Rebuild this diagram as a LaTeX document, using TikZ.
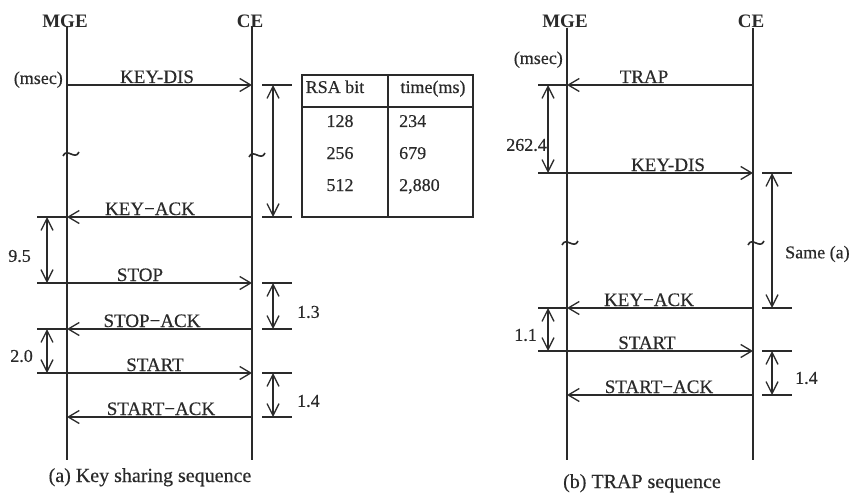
\documentclass[tikz,border=0pt]{standalone}
\usepackage{fontspec}
\setmainfont{Liberation Serif}
\newfontfamily\scanfont{Liberation Serif}[FakeBold=0.4]
\usetikzlibrary{arrows.meta}
\definecolor{ink}{HTML}{2A2A2A}
\begin{document}
\begin{tikzpicture}[x=1pt,y=-1pt,
  life/.style={line width=1.3pt, draw=ink},
  tickline/.style={line width=1.3pt, draw=ink},
  msg/.style={line width=1.3pt, draw=ink, -{Straight Barb[length=11pt,width=13pt]}},
  dimarrow/.style={line width=1.3pt, draw=ink, {Straight Barb[length=12pt,width=12pt]}-{Straight Barb[length=12pt,width=12pt]}},
  tildeline/.style={line width=1.6pt, draw=ink},
  headtext/.style={font=\bfseries\fontsize{19}{19}\selectfont, text=ink, inner sep=0pt, anchor=base},
  lbl/.style={font=\scanfont\fontsize{19}{19}\selectfont, text=ink, inner sep=0pt, anchor=base},
  num/.style={font=\scanfont\fontsize{18}{18}\selectfont, text=ink, inner sep=0pt},
  captext/.style={font=\scanfont\fontsize{20}{20}\selectfont, text=ink, inner sep=0pt, anchor=base},
  tab/.style={line width=1.3pt, draw=ink}
]
\useasboundingbox[fill=white] (0,0) rectangle (855,495);

% ================= (a) Key sharing sequence =================
\node[headtext] (mgeA) at (65,28) {MGE};
\node[headtext] (ceA) at (250,28) {CE};
\coordinate (mgeAtop) at (67,26);
\coordinate (mgeAbot) at (67,460);
\coordinate (ceAtop) at (252,26);
\coordinate (ceAbot) at (252,460);
\draw[life] (mgeAtop) -- (mgeAbot);
\draw[life] (ceAtop) -- (ceAbot);
\node[num, anchor=base east] (msecA) at (63,84) {(msec)};

% tildes
\draw[tildeline] (63,156) .. controls (67,147) and (75,161) .. (79,152);
\draw[tildeline] (249,157) .. controls (253,148) and (261,162) .. (265,153);

% message coordinates
\coordinate (aKDm) at (67,85);  \coordinate (aKDc) at (252,85);
\coordinate (aKAm) at (67,217); \coordinate (aKAc) at (252,217);
\coordinate (aSTl) at (37,283); \coordinate (aSTc) at (252,283);
\coordinate (aSAm) at (67,329); \coordinate (aSAc) at (252,329);
\coordinate (aRSl) at (37,373); \coordinate (aRSc) at (252,373);
\coordinate (aRAm) at (67,417); \coordinate (aRAc) at (252,417);
\coordinate (aKAl) at (37,217);
\coordinate (aSAl) at (37,329);

\draw[msg] (aKDm) -- (aKDc);
\draw[msg] (aKAc) -- (aKAm);
\draw[tickline] (aKAm) -- (aKAl);
\draw[msg] (aSTl) -- (aSTc);
\draw[msg] (aSAc) -- (aSAm);
\draw[tickline] (aSAm) -- (aSAl);
\draw[msg] (aRSl) -- (aRSc);
\draw[msg] (aRAc) -- (aRAm);

\node[lbl] (lKDa) at (157,83) {KEY-DIS};
\node[lbl] (lKAa) at (150,215) {KEY−ACK};
\node[lbl] (lSTa) at (140,281) {STOP};
\node[lbl] (lSAa) at (152,327) {STOP−ACK};
\node[lbl] (lRSa) at (155,371) {START};
\node[lbl] (lRAa) at (161,415) {START−ACK};

% right ticks (a)
\foreach \yy/\nm in {85/r1,217/r2,283/r3,329/r4,373/r5,417/r6}{
  \coordinate (a\nm l) at (262,\yy);
  \coordinate (a\nm r) at (292,\yy);
  \draw[tickline] (a\nm l) -- (a\nm r);
}
\coordinate (aD1t) at (273,85);  \coordinate (aD1b) at (273,217);
\coordinate (aD2t) at (273,283); \coordinate (aD2b) at (273,329);
\coordinate (aD3t) at (273,373); \coordinate (aD3b) at (273,417);
\draw[dimarrow] (aD1t) -- (aD1b);
\draw[dimarrow] (aD2t) -- (aD2b);
\draw[dimarrow] (aD3t) -- (aD3b);
\node[num, anchor=west] (d13) at (297,312) {1.3};
\node[num, anchor=west] (d14a) at (297,401) {1.4};

% left dims (a)
\coordinate (aL1t) at (47,217); \coordinate (aL1b) at (47,283);
\coordinate (aL2t) at (47,329); \coordinate (aL2b) at (47,373);
\draw[dimarrow] (aL1t) -- (aL1b);
\draw[dimarrow] (aL2t) -- (aL2b);
\node[num, anchor=east] (d95) at (31,256) {9.5};
\node[num, anchor=east] (d20) at (33,356) {2.0};

% table
\draw[tab] (302,75) rectangle (473,217);
\draw[tab] (302,107) -- (473,107);
\draw[tab] (388,75) -- (388,217);
\node[num, anchor=base] (th1) at (335,93) {RSA bit};
\node[num, anchor=base] (th2) at (433,93) {time(ms)};
\node[num, anchor=base] (t11) at (340,127) {128};
\node[num, anchor=base] (t21) at (340,159) {256};
\node[num, anchor=base] (t31) at (340,191) {512};
\node[num, anchor=base west] (t12) at (399,127) {234};
\node[num, anchor=base west] (t22) at (399,159) {679};
\node[num, anchor=base west] (t32) at (399,191) {2,880};

\node[captext] (capA) at (150,482) {(a) Key sharing sequence};

% ================= (b) TRAP sequence =================
\node[headtext] (mgeB) at (565,28) {MGE};
\node[headtext] (ceB) at (751,28) {CE};
\coordinate (mgeBtop) at (567,28);
\coordinate (mgeBbot) at (567,460);
\coordinate (ceBtop) at (753,28);
\coordinate (ceBbot) at (753,460);
\draw[life] (mgeBtop) -- (mgeBbot);
\draw[life] (ceBtop) -- (ceBbot);
\node[num, anchor=base east] (msecB) at (563,64) {(msec)};

\draw[tildeline] (562,245) .. controls (566,236) and (574,250) .. (578,241);
\draw[tildeline] (748,245) .. controls (752,236) and (760,250) .. (764,241);

\coordinate (bTRm) at (567,85);  \coordinate (bTRc) at (753,85);  \coordinate (bTRl) at (538,85);
\coordinate (bKDl) at (538,173); \coordinate (bKDc) at (753,173);
\coordinate (bKAm) at (567,308); \coordinate (bKAc) at (753,308); \coordinate (bKAl) at (538,308);
\coordinate (bRSl) at (538,351); \coordinate (bRSc) at (753,351);
\coordinate (bRAm) at (567,395); \coordinate (bRAc) at (753,395);

\draw[msg] (bTRc) -- (bTRm);
\draw[tickline] (bTRm) -- (bTRl);
\draw[msg] (bKDl) -- (bKDc);
\draw[msg] (bKAc) -- (bKAm);
\draw[tickline] (bKAm) -- (bKAl);
\draw[msg] (bRSl) -- (bRSc);
\draw[msg] (bRAc) -- (bRAm);

\node[lbl] (lTRb) at (644,83) {TRAP};
\node[lbl] (lKDb) at (668,171) {KEY-DIS};
\node[lbl] (lKAb) at (649,306) {KEY−ACK};
\node[lbl] (lRSb) at (647,349) {START};
\node[lbl] (lRAb) at (659,393) {START−ACK};

\foreach \yy/\nm in {173/r1,308/r2,351/r3,395/r4}{
  \coordinate (b\nm l) at (762,\yy);
  \coordinate (b\nm r) at (792,\yy);
  \draw[tickline] (b\nm l) -- (b\nm r);
}
\coordinate (bD1t) at (772,173); \coordinate (bD1b) at (772,308);
\coordinate (bD2t) at (772,351); \coordinate (bD2b) at (772,395);
\draw[dimarrow] (bD1t) -- (bD1b);
\draw[dimarrow] (bD2t) -- (bD2b);
\node[num, anchor=west] (dsame) at (785,254) {Same (a)};
\node[num, anchor=west] (d14b) at (795,378) {1.4};

\coordinate (bL1t) at (548,85);  \coordinate (bL1b) at (548,173);
\coordinate (bL2t) at (548,308); \coordinate (bL2b) at (548,351);
\draw[dimarrow] (bL1t) -- (bL1b);
\draw[dimarrow] (bL2t) -- (bL2b);
\node[num, anchor=east] (d262) at (547,145) {262.4};
\node[num, anchor=east] (d11) at (537,335) {1.1};

\node[captext] (capB) at (642,488) {(b) TRAP sequence};
\end{tikzpicture}
\end{document}
